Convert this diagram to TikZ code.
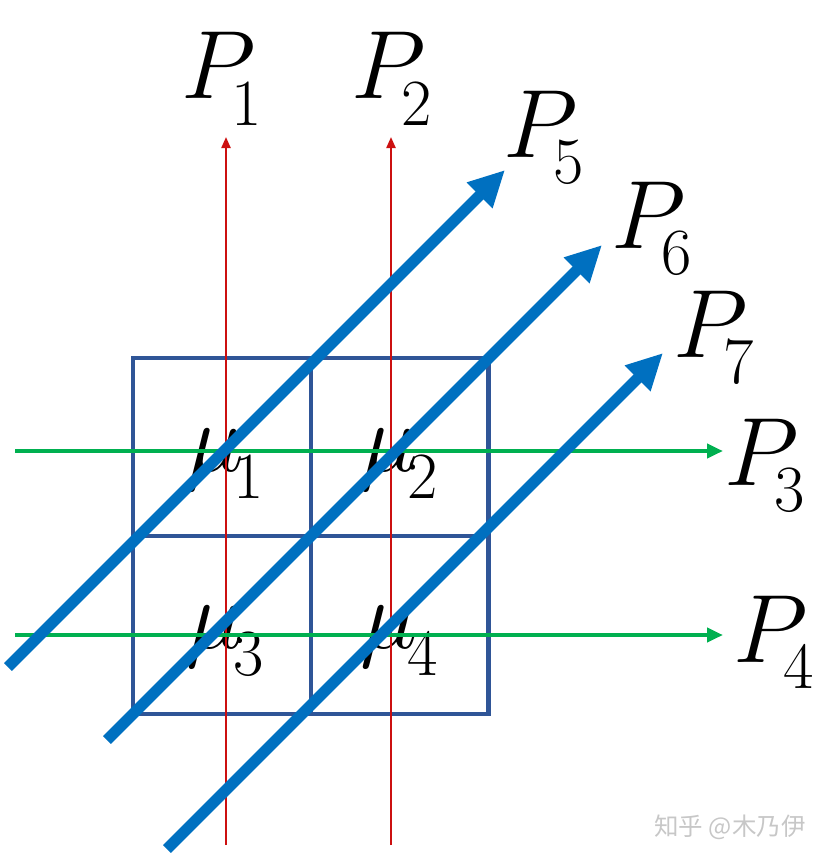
\RequirePackage{fix-cm}
\documentclass[tikz,border=0pt]{standalone}
\usepackage{fontspec}
\newfontfamily\cjk{Noto Sans CJK SC}
\usetikzlibrary{arrows.meta}
\definecolor{gridblue}{RGB}{47,85,151}
\definecolor{redline}{RGB}{204,16,16}
\definecolor{greenline}{RGB}{0,176,80}
\definecolor{bluearrow}{RGB}{0,112,192}
\newcommand\Plab[1]{\fontsize{97}{97}\selectfont$P$\kern-24pt\raisebox{-26pt}{\fontsize{66}{66}\selectfont\upshape #1}}
\newcommand\Mlab[1]{\fontsize{98}{98}\selectfont$\mu$\kern-10pt\raisebox{-27pt}{\fontsize{66}{66}\selectfont\upshape #1}}
\tikzset{
  lab/.style={anchor=base west, inner sep=0pt, outer sep=0pt},
  gridline/.style={draw=gridblue, line width=4.5pt},
  redarrow/.style={draw=redline, line width=2.2pt, -{Triangle[length=11pt,width=9pt]}},
  greenarrow/.style={draw=greenline, line width=4pt, -{Triangle[length=16pt,width=14pt]}},
  bigarrow/.style={draw=bluearrow, line width=11pt, line cap=butt, -{Triangle[length=36pt,width=34pt]}},
}
\begin{document}
\begin{tikzpicture}[x=1pt,y=-1pt]
\useasboundingbox (0,0) rectangle (831,859);
% mu labels (behind lines)
\node[lab] (m1) at (186,471) {\Mlab{1}};
\node[lab] (m2) at (360,471) {\Mlab{2}};
\node[lab] (m3) at (186,648) {\Mlab{3}};
\node[lab] (m4) at (360,648) {\Mlab{4}};
% grid
\draw[gridline] (133,358) rectangle (488.5,714);
\draw[gridline] (311,358) -- (311,714);
\draw[gridline] (133,536) -- (488.5,536);
% endpoints
\coordinate (r1s) at (226,845); \coordinate (r1e) at (226,137);
\coordinate (r2s) at (391,845); \coordinate (r2e) at (391,137);
\coordinate (g1s) at (15,451);  \coordinate (g1e) at (723,451);
\coordinate (g2s) at (15,635);  \coordinate (g2e) at (723,635);
\coordinate (b5s) at (8,667);   \coordinate (b5e) at (505,170);
\coordinate (b6s) at (107,740); \coordinate (b6e) at (602,245);
\coordinate (b7s) at (167,849); \coordinate (b7e) at (663,353);
% red
\draw[redarrow] (r1s) -- (r1e);
\draw[redarrow] (r2s) -- (r2e);
% green
\draw[greenarrow] (g1s) -- (g1e);
\draw[greenarrow] (g2s) -- (g2e);
% blue
\draw[bigarrow] (b5s) -- (b5e);
\draw[bigarrow] (b6s) -- (b6e);
\draw[bigarrow] (b7s) -- (b7e);
% P labels
\node[lab] (p1) at (181,99) {\Plab{1}};
\node[lab] (p2) at (351,99) {\Plab{2}};
\node[lab] (p5) at (503,157) {\Plab{5}};
\node[lab] (p6) at (611,248) {\Plab{6}};
\node[lab] (p7) at (673,357) {\Plab{7}};
\node[lab] (p3) at (724,485) {\Plab{3}};
\node[lab] (p4) at (733,662) {\Plab{4}};
% watermark
\node[text=black!22, inner sep=0pt] (wm) at (730,827) {\cjk\fontsize{24.5}{24.5}\selectfont 知乎 @木乃伊};
\end{tikzpicture}
\end{document}
